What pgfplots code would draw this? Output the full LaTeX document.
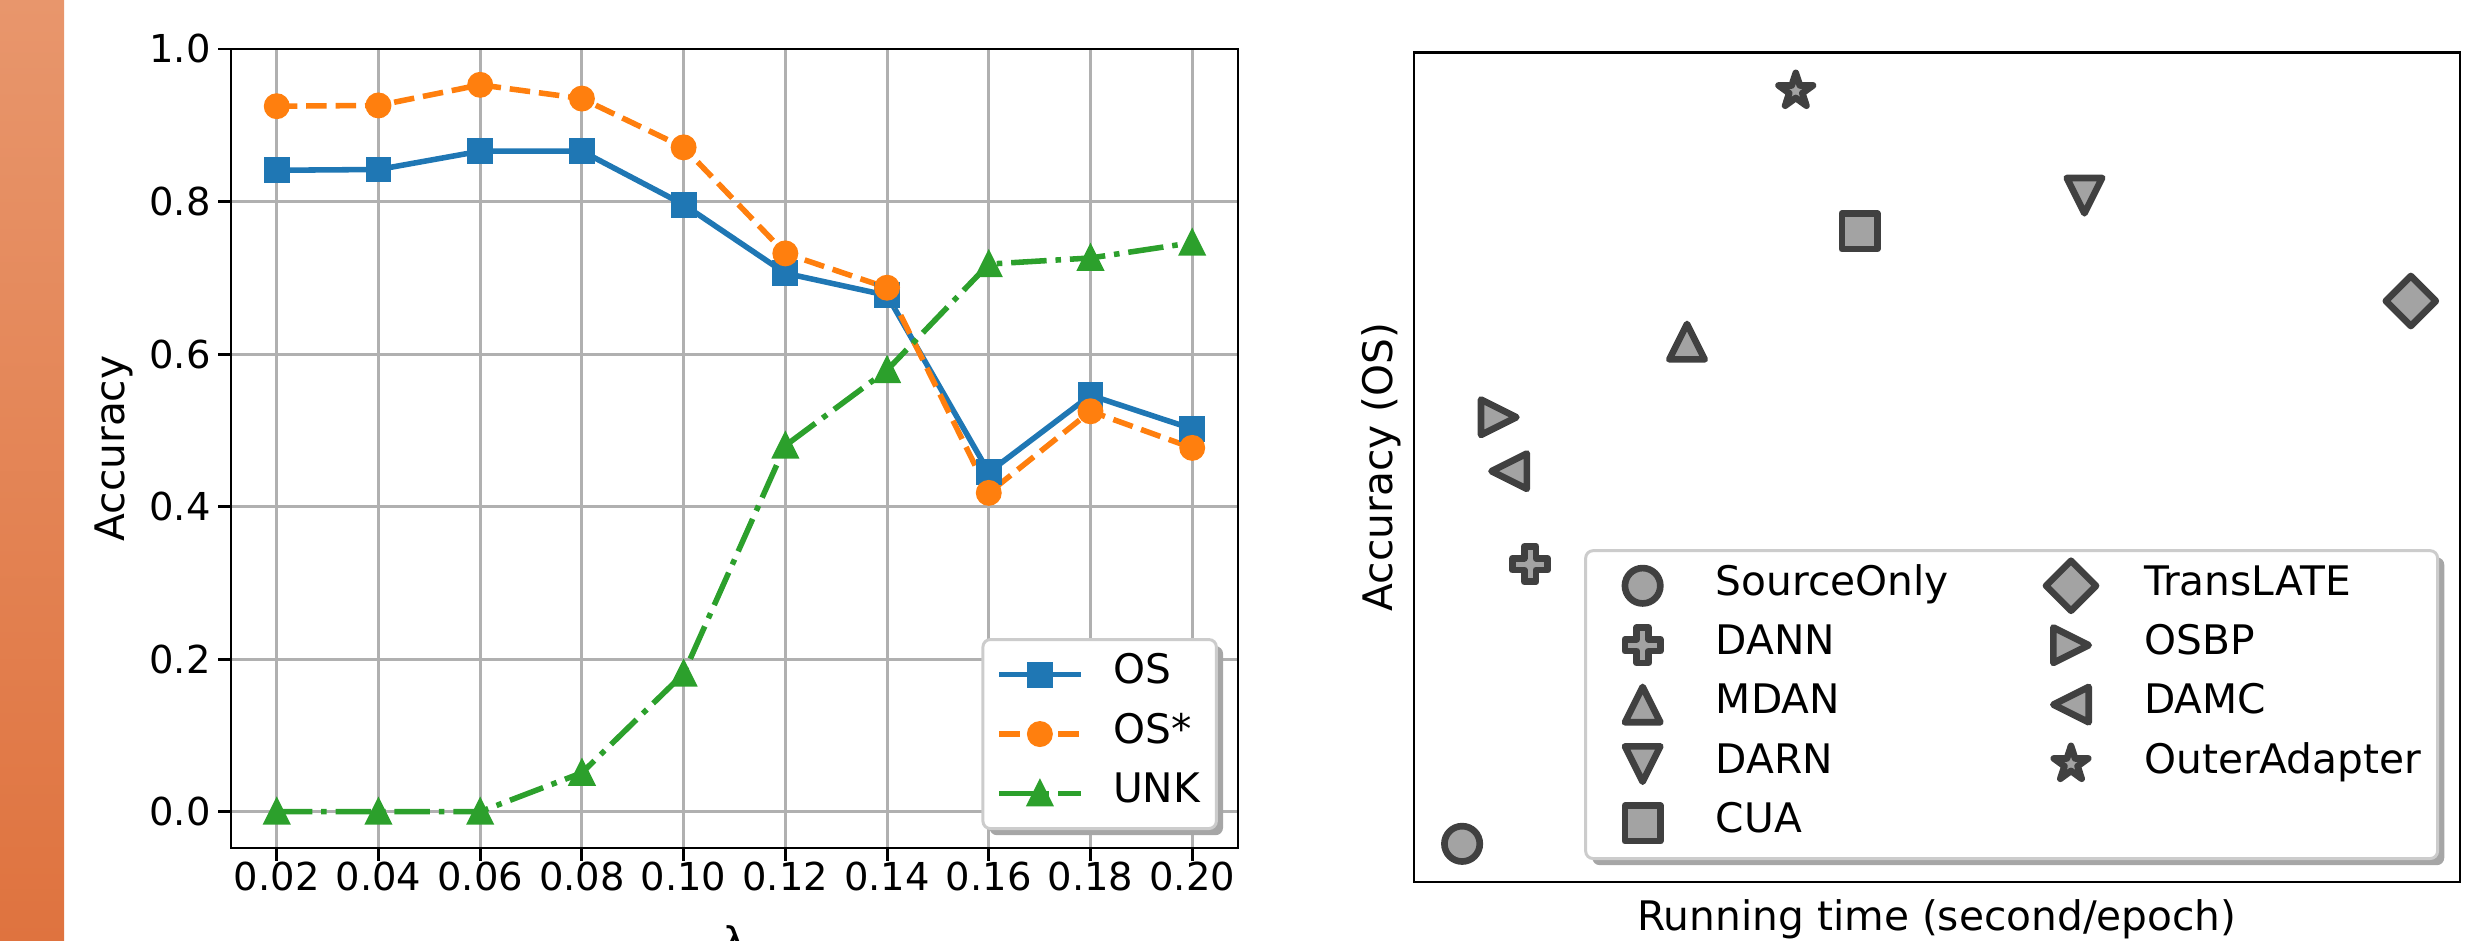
\documentclass[border=0pt]{standalone}
\usepackage{fontspec}
\setmainfont{DejaVu Sans}
\usepackage{pgfplots}
\usepackage{pgfplotstable}
\pgfplotsset{compat=1.18}
\usetikzlibrary{shadows}
\definecolor{c0}{HTML}{1F77B4}
\definecolor{c1}{HTML}{FF7F0E}
\definecolor{c2}{HTML}{2CA02C}
\definecolor{gridc}{HTML}{B0B0B0}
\definecolor{mfill}{HTML}{A3A3A3}
\definecolor{medge}{HTML}{404040}
\definecolor{stripTop}{HTML}{E8966C}
\definecolor{stripBot}{HTML}{DF733F}

\makeatletter
\tikzset{no preactions/.code={\let\tikz@preactions\pgfutil@empty\let\tikz@postactions\pgfutil@empty}}
\makeatother

% matplotlib-like markers
\pgfdeclareplotmark{mtriup}{%
  \pgfpathmoveto{\pgfqpoint{0pt}{\pgfplotmarksize}}%
  \pgfpathlineto{\pgfqpoint{-\pgfplotmarksize}{-\pgfplotmarksize}}%
  \pgfpathlineto{\pgfqpoint{\pgfplotmarksize}{-\pgfplotmarksize}}%
  \pgfpathclose\pgfusepathqfillstroke}
\pgfdeclareplotmark{mtridown}{%
  \pgfpathmoveto{\pgfqpoint{0pt}{-\pgfplotmarksize}}%
  \pgfpathlineto{\pgfqpoint{-\pgfplotmarksize}{\pgfplotmarksize}}%
  \pgfpathlineto{\pgfqpoint{\pgfplotmarksize}{\pgfplotmarksize}}%
  \pgfpathclose\pgfusepathqfillstroke}
\pgfdeclareplotmark{mtriright}{%
  \pgfpathmoveto{\pgfqpoint{\pgfplotmarksize}{0pt}}%
  \pgfpathlineto{\pgfqpoint{-\pgfplotmarksize}{\pgfplotmarksize}}%
  \pgfpathlineto{\pgfqpoint{-\pgfplotmarksize}{-\pgfplotmarksize}}%
  \pgfpathclose\pgfusepathqfillstroke}
\pgfdeclareplotmark{mtrileft}{%
  \pgfpathmoveto{\pgfqpoint{-\pgfplotmarksize}{0pt}}%
  \pgfpathlineto{\pgfqpoint{\pgfplotmarksize}{\pgfplotmarksize}}%
  \pgfpathlineto{\pgfqpoint{\pgfplotmarksize}{-\pgfplotmarksize}}%
  \pgfpathclose\pgfusepathqfillstroke}
\pgfdeclareplotmark{mdiamond}{%
  \pgfpathmoveto{\pgfqpoint{0pt}{1.4142\pgfplotmarksize}}%
  \pgfpathlineto{\pgfqpoint{1.4142\pgfplotmarksize}{0pt}}%
  \pgfpathlineto{\pgfqpoint{0pt}{-1.4142\pgfplotmarksize}}%
  \pgfpathlineto{\pgfqpoint{-1.4142\pgfplotmarksize}{0pt}}%
  \pgfpathclose\pgfusepathqfillstroke}
\pgfdeclareplotmark{mplus}{%
  \pgfpathmoveto{\pgfqpoint{-0.3333\pgfplotmarksize}{-\pgfplotmarksize}}%
  \pgfpathlineto{\pgfqpoint{0.3333\pgfplotmarksize}{-\pgfplotmarksize}}%
  \pgfpathlineto{\pgfqpoint{0.3333\pgfplotmarksize}{-0.3333\pgfplotmarksize}}%
  \pgfpathlineto{\pgfqpoint{\pgfplotmarksize}{-0.3333\pgfplotmarksize}}%
  \pgfpathlineto{\pgfqpoint{\pgfplotmarksize}{0.3333\pgfplotmarksize}}%
  \pgfpathlineto{\pgfqpoint{0.3333\pgfplotmarksize}{0.3333\pgfplotmarksize}}%
  \pgfpathlineto{\pgfqpoint{0.3333\pgfplotmarksize}{\pgfplotmarksize}}%
  \pgfpathlineto{\pgfqpoint{-0.3333\pgfplotmarksize}{\pgfplotmarksize}}%
  \pgfpathlineto{\pgfqpoint{-0.3333\pgfplotmarksize}{0.3333\pgfplotmarksize}}%
  \pgfpathlineto{\pgfqpoint{-\pgfplotmarksize}{0.3333\pgfplotmarksize}}%
  \pgfpathlineto{\pgfqpoint{-\pgfplotmarksize}{-0.3333\pgfplotmarksize}}%
  \pgfpathlineto{\pgfqpoint{-0.3333\pgfplotmarksize}{-0.3333\pgfplotmarksize}}%
  \pgfpathclose\pgfusepathqfillstroke}
\pgfdeclareplotmark{mstar}{%
  \pgfpathmoveto{\pgfqpoint{0pt}{\pgfplotmarksize}}%
  \pgfpathlineto{\pgfqpoint{-0.2245\pgfplotmarksize}{0.3090\pgfplotmarksize}}%
  \pgfpathlineto{\pgfqpoint{-0.9511\pgfplotmarksize}{0.3090\pgfplotmarksize}}%
  \pgfpathlineto{\pgfqpoint{-0.3633\pgfplotmarksize}{-0.1180\pgfplotmarksize}}%
  \pgfpathlineto{\pgfqpoint{-0.5878\pgfplotmarksize}{-0.8090\pgfplotmarksize}}%
  \pgfpathlineto{\pgfqpoint{0pt}{-0.3820\pgfplotmarksize}}%
  \pgfpathlineto{\pgfqpoint{0.5878\pgfplotmarksize}{-0.8090\pgfplotmarksize}}%
  \pgfpathlineto{\pgfqpoint{0.3633\pgfplotmarksize}{-0.1180\pgfplotmarksize}}%
  \pgfpathlineto{\pgfqpoint{0.9511\pgfplotmarksize}{0.3090\pgfplotmarksize}}%
  \pgfpathlineto{\pgfqpoint{0.2245\pgfplotmarksize}{0.3090\pgfplotmarksize}}%
  \pgfpathclose\pgfusepathqfillstroke}

\pgfplotstableread{
lam   OS     OSs    UNK
0.02  0.841  0.925  0.000
0.04  0.842  0.926  0.000
0.06  0.866  0.953  0.000
0.08  0.866  0.935  0.051
0.10  0.796  0.871  0.181
0.12  0.706  0.732  0.480
0.14  0.677  0.687  0.579
0.16  0.445  0.418  0.718
0.18  0.546  0.525  0.726
0.20  0.502  0.477  0.746
}\lamdata

\pgfplotsset{
  mpllegend/.style={
    legend cell align=left,
    legend image code/.code={%
      \begin{pgfinterruptboundingbox}%
      \draw[no preactions, sharp corners, mark repeat=2,mark phase=2,##1] plot coordinates {(0pt,0pt) (11pt,0pt) (22pt,0pt)};%
      \end{pgfinterruptboundingbox}%
      \pgfpathmoveto{\pgfqpoint{0pt}{-2pt}}\pgfpathlineto{\pgfqpoint{22pt}{2pt}}\pgfusepath{discard}},
    legend style={draw=black!20, line width=0.8pt, rounded corners=2pt, fill=white,
      drop shadow={shadow xshift=1.8pt, shadow yshift=-1.8pt, fill=black!35, opacity=1},
      inner xsep=4.4pt, inner ysep=4.2pt, row sep=5.5pt,
      nodes={inner xsep=0pt, inner ysep=0pt, text height=7.8pt, text depth=2.76pt, font=\fontsize{11}{13}\selectfont},
      /tikz/every odd column/.append style={column sep=8.8pt}},
  },
}

\begin{document}
\begin{tikzpicture}
\path[use as bounding box] (0pt,0pt) rectangle (672.97pt,-254.32pt);
\shade[top color=stripTop, bottom color=stripBot] (0pt,0pt) rectangle (17.30pt,-254.32pt);

\begin{axis}[
  at={(62.43pt,-229.19pt)}, anchor=south west,
  scale only axis, width=272.16pt, height=215.95pt,
  xmin=0.011, xmax=0.209, ymin=-0.0476, ymax=1.0,
  xtick={0.02,0.04,0.06,0.08,0.10,0.12,0.14,0.16,0.18,0.20},
  xticklabels={0.02,0.04,0.06,0.08,0.10,0.12,0.14,0.16,0.18,0.20},
  ytick={0,0.2,0.4,0.6,0.8,1.0},
  yticklabels={0.0,0.2,0.4,0.6,0.8,1.0},
  tick align=outside, major tick length=3.5pt, tick pos=left,
  every tick/.style={black, line width=0.8pt},
  axis line style={line width=0.8pt},
  grid=major, major grid style={gridc, line width=0.8pt},
  every tick label/.append style={font=\fontsize{10.4}{12}\selectfont, inner sep=0pt},
  xticklabel style={anchor=north},
  yticklabel style={anchor=east, xshift=-1.8pt},
  xlabel={λ}, ylabel={Accuracy},
  label style={font=\fontsize{11}{13}\selectfont},
  xlabel style={at={(axis description cs:0.5,-0.096)}, anchor=north, inner sep=0pt},
  ylabel style={at={(axis description cs:-0.0963,0.5)}, anchor=south, inner sep=0pt},
  mpllegend,
  legend style={at={(rel axis cs:0.980,0.0225)}, anchor=south east},
]
\addplot[c0, line width=1.5pt, mark=square*, mark size=3pt, mark options={solid, line width=1pt}]
  table[x=lam, y=OS] {\lamdata};
\addlegendentry{OS}
\addplot[c1, line width=1.5pt, dash pattern=on 5.55pt off 2.4pt, mark=*, mark size=3pt, mark options={solid, line width=1pt}]
  table[x=lam, y=OSs] {\lamdata};
\addlegendentry{OS*}
\addplot[c2, line width=1.5pt, dash pattern=on 9.6pt off 2.4pt on 1.5pt off 2.4pt, mark=mtriup, mark size=3pt, mark options={solid, line width=1pt, fill=c2}]
  table[x=lam, y=UNK] {\lamdata};
\addlegendentry{UNK}
\end{axis}

\begin{axis}[
  at={(382.16pt,-238.38pt)}, anchor=south west,
  scale only axis, width=282.70pt, height=224.32pt,
  xmin=0, xmax=1, ymin=0, ymax=1,
  xtick=\empty, ytick=\empty,
  axis line style={line width=0.8pt},
  xlabel={Running time (second/epoch)}, ylabel={Accuracy (OS)},
  label style={font=\fontsize{11}{13}\selectfont},
  xlabel style={at={(axis description cs:0.5,-0.0205)}, anchor=north, inner sep=0pt},
  ylabel style={at={(axis description cs:-0.0115,0.5)}, anchor=south, inner sep=0pt},
  mpllegend,
  legend columns=2,
  legend style={at={(rel axis cs:0.980,0.0265)}, anchor=south east,
    /tikz/every even column/.append style={column sep=22pt}},
  scat/.style={only marks, color=medge, line width=1.8pt, line join=round, mark options={fill=mfill, solid}},
]
\addplot[scat, mark=*, mark size=4.78pt] coordinates {(0.046,0.046)};
\addlegendentry{SourceOnly}
\addplot[scat, mark=mdiamond, mark size=4.78pt] coordinates {(0.953,0.700)};
\addlegendentry{TransLATE}
\addplot[scat, mark=mplus, mark size=4.78pt] coordinates {(0.111,0.383)};
\addlegendentry{DANN}
\addplot[scat, mark=mtriright, mark size=4.78pt] coordinates {(0.081,0.560)};
\addlegendentry{OSBP}
\addplot[scat, mark=mtriup, mark size=4.78pt] coordinates {(0.261,0.651)};
\addlegendentry{MDAN}
\addplot[scat, mark=mtrileft, mark size=4.78pt] coordinates {(0.091,0.495)};
\addlegendentry{DAMC}
\addplot[scat, mark=mtridown, mark size=4.78pt] coordinates {(0.641,0.827)};
\addlegendentry{DARN}
\addplot[scat, mark=mstar, mark size=4.9pt] coordinates {(0.365,0.953)};
\addlegendentry{OuterAdapter}
\addplot[scat, mark=square*, mark size=4.78pt] coordinates {(0.426,0.784)};
\addlegendentry{CUA}
\end{axis}
\end{tikzpicture}
\end{document}
